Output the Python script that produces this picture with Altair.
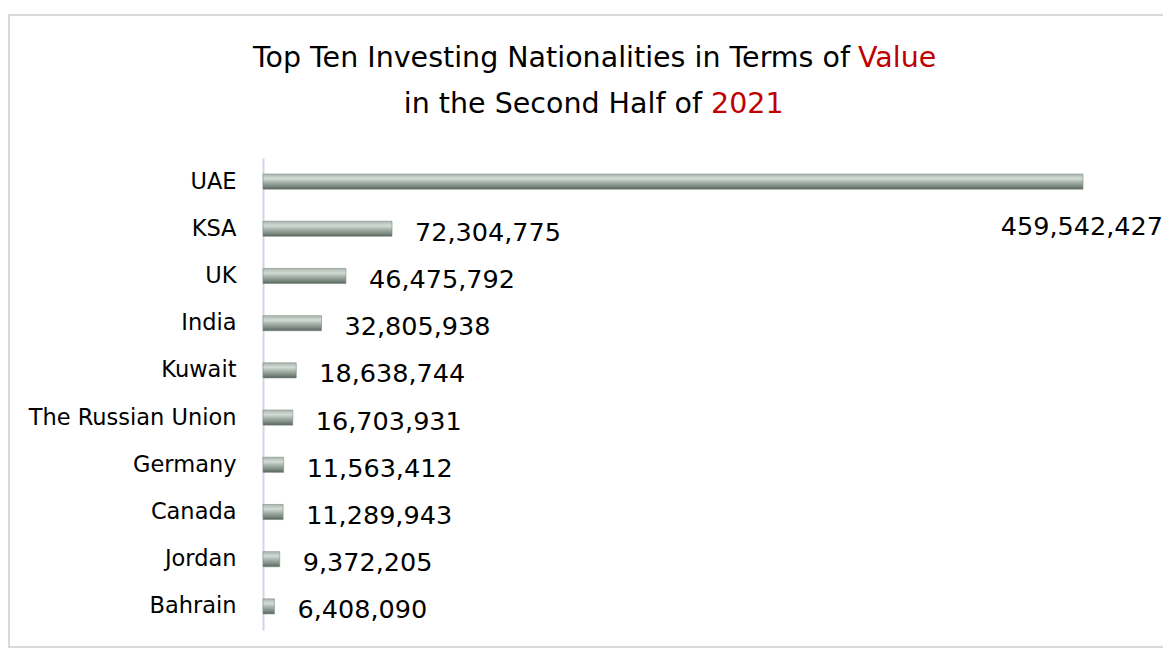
import altair as alt
import pandas as pd

countries = ["UAE", "KSA", "UK", "India", "Kuwait", "The Russian Union",
             "Germany", "Canada", "Jordan", "Bahrain"]
values = [459542427, 72304775, 46475792, 32805938, 18638744, 16703931,
          11563412, 11289943, 9372205, 6408090]

df = pd.DataFrame({"country": countries, "value": values})

FONT = "DejaVu Sans"
W, H = 820, 472

grad = alt.LinearGradient(
    gradient="linear", x1=0, y1=0, x2=0, y2=1,
    stops=[
        alt.GradientStop(color="#a9b6ae", offset=0),
        alt.GradientStop(color="#d3dcd6", offset=0.3),
        alt.GradientStop(color="#a3b1a8", offset=0.55),
        alt.GradientStop(color="#7d8b82", offset=0.8),
        alt.GradientStop(color="#56625b", offset=1),
    ],
)

x = alt.X("value:Q", scale=alt.Scale(domain=[0, 459542427], nice=False, zero=True), axis=None)
y = alt.Y("country:N", sort=countries,
          scale=alt.Scale(paddingInner=0.68, paddingOuter=0.34),
          axis=alt.Axis(title=None, ticks=False, labelFont=FONT, labelFontSize=22.5,
                        labelColor="#000000", labelPadding=27, labelLimit=400,
                        domainColor="#d4d4e4", domainWidth=2, grid=False))

base = alt.Chart(df)

bars = base.mark_bar(color=grad, stroke="#7d8a82", strokeWidth=0.6).encode(x=x, y=y)

labels_other = base.transform_filter(alt.datum.country != "UAE").mark_text(
    align="left", baseline="middle", dx=23, dy=4, font=FONT, fontSize=25.5, color="#000000"
).encode(x=x, y=y, text=alt.Text("value:Q", format=",d"))

labels_uae = base.transform_filter(alt.datum.country == "UAE").mark_text(
    align="right", baseline="middle", dx=80, dy=45, font=FONT, fontSize=25.5, color="#000000"
).encode(x=x, y=y, text=alt.Text("value:Q", format=",d"))

title_df = pd.DataFrame({
    "t": ["Top Ten Investing Nationalities in Terms of", "Value",
          "in the Second Half of", "2021"],
})

def tline(i, xpos, ypos, align, color):
    return alt.Chart(title_df.iloc[[i]]).mark_text(
        align=align, baseline="middle", font=FONT, fontSize=28.5, color=color
    ).encode(text="t:N", x=alt.value(xpos), y=alt.value(ypos))

t1 = tline(0, 587, -100, "right", "#000000")
t2 = tline(1, 595, -100, "left", "#c00000")
t3 = tline(2, 439, -54, "right", "#000000")
t4 = tline(3, 448, -54, "left", "#c00000")

frame = alt.Chart(pd.DataFrame({"a": [0]})).mark_rect(
    fill=None, stroke="#d9d9d9", strokeWidth=2, clip=False
).encode(x=alt.value(-254), x2=alt.value(910), y=alt.value(-143), y2=alt.value(489))

chart = alt.layer(frame, bars, labels_other, labels_uae, t1, t2, t3, t4).properties(
    width=W, height=H,
    background="#ffffff",
    autosize=alt.AutoSizeParams(type="none"),
    padding={"left": 255, "top": 150, "right": 80, "bottom": 18},
).configure_view(strokeWidth=0, stroke=None)

chart.save("out.html", embed_options={"renderer": "svg", "actions": False})
